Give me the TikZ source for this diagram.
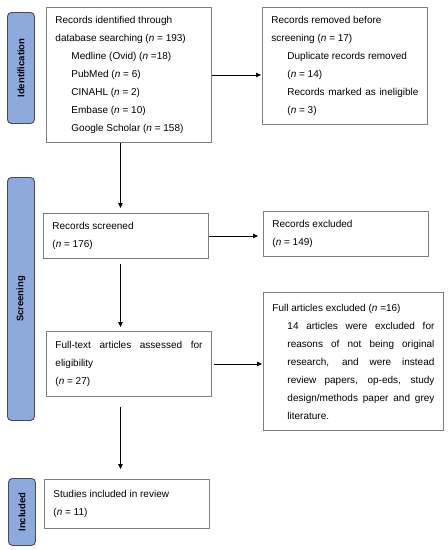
\documentclass[tikz,border=0pt]{standalone}
\usepackage{fontspec}
\setmainfont{Liberation Sans}
\usetikzlibrary{arrows.meta}
\definecolor{barfill}{HTML}{8EA9DB}
\definecolor{barline}{HTML}{3E4C6A}
\definecolor{boxline}{HTML}{7F7F7F}
\tikzset{
  txtbox/.style={draw=boxline, line width=0.9pt, rectangle, anchor=north west,
    inner xsep=9pt, inner ysep=0pt, align=justify,
    font=\fontsize{10}{18}\selectfont,
    execute at begin node={\hyphenpenalty=10000\exhyphenpenalty=10000\emergencystretch=20pt}},
  phasebar/.style={draw=barline, fill=barfill, line width=0.9pt, rounded corners=4pt,
    anchor=north west, inner sep=0pt},
  phaselabel/.style={rotate=90, font=\fontsize{9.5}{11}\selectfont\bfseries},
  arr/.style={-{Triangle[length=5pt,width=4.5pt]}, line width=0.8pt, black}
}
\newcommand{\nn}{\textit{n}}
\begin{document}
\begin{tikzpicture}[x=1pt,y=-1pt]
\useasboundingbox (0,0) rectangle (448,550);
% phase bars
\node[phasebar, minimum width=27pt, minimum height=111pt] (pid) at (7,12) {};
\node[phaselabel] (lid) at (pid.center) {Identification};
\node[phasebar, minimum width=27pt, minimum height=243pt] (psc) at (7,177) {};
\node[phaselabel] (lsc) at (psc.center) {Screening};
\node[phasebar, minimum width=27pt, minimum height=67pt] (pin) at (8,478) {};
\node[phaselabel] (lin) at (pin.center) {Included};
% boxes
\node[txtbox, text width=147pt, minimum height=135pt] (b1) at (46,7)
 {Records identified through\\ database searching (\nn{} = 193)\par
  {\leftskip=16pt Medline (Ovid) (\nn{} =18)\\ PubMed (\nn{} = 6)\\ CINAHL (\nn{} = 2)\\ Embase (\nn{} = 10)\\ Google Scholar (\nn{} = 158)\par}};
\node[txtbox, text width=147pt, minimum height=117pt] (b2) at (262,7)
 {Records removed before\\ screening (\nn{} = 17)\par
  {\leftskip=16pt Duplicate records removed\\ (\nn{} = 14)\\ Records marked as ineligible (\nn{} = 3)\par}};
\node[txtbox, text width=147pt, minimum height=45pt] (b3) at (43,213)
 {Records screened\\ (\nn{} = 176)};
\node[txtbox, text width=147pt, minimum height=45pt] (b4) at (263,211)
 {Records excluded\\ (\nn{} = 149)};
\node[txtbox, text width=147pt, minimum height=65pt] (b5) at (46,331)
 {Full-text articles assessed for eligibility\\ (\nn{} = 27)};
\node[txtbox, text width=162pt, minimum height=138pt] (b6) at (263,292)
 {Full articles excluded (\nn{} =16)\par
  {\leftskip=15pt 14 articles were excluded for reasons of not being original research, and were instead review papers, op-eds, study design/methods paper and grey literature.\par}};
\node[txtbox, text width=147pt, minimum height=49pt] (b7) at (44,479)
 {Studies included in review\\ (\nn{} = 11)};
% connectors
\draw[arr, shorten >=5pt] ([xshift=-8.5pt]b1.south) -- ([xshift=-5.5pt]b3.north);
\draw[arr, shorten <=5pt, shorten >=4pt] ([xshift=-5.5pt]b3.south) -- ([xshift=-8.5pt]b5.north);
\draw[arr, shorten <=10pt, shorten >=10pt] ([xshift=-8.5pt]b5.south) -- ([xshift=-6.5pt]b7.north);
\draw[arr, shorten >=1pt] (b1.east) -- (b1.east -| b2.west);
\draw[arr, shorten >=5pt] (b3.east) -- (b3.east -| b4.west);
\draw[arr, shorten <=2pt, shorten >=1pt] (b5.east) -- (b5.east -| b6.west);
\end{tikzpicture}
\end{document}
